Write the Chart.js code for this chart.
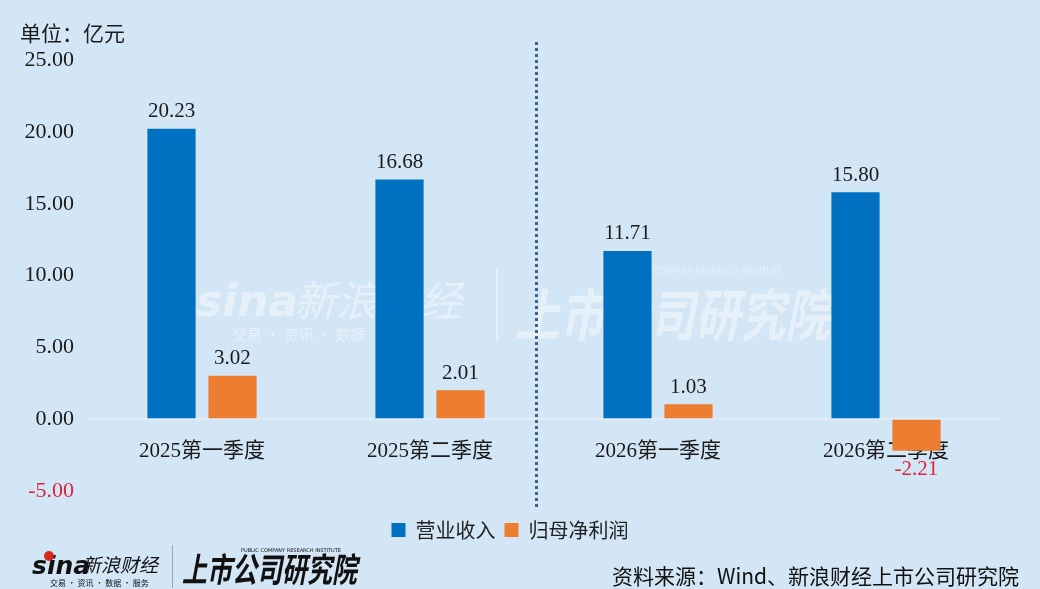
<!DOCTYPE html>
<html>
<head>
<meta charset="utf-8">
<script src="https://cdn.jsdelivr.net/npm/chart.js@4.4.1/dist/chart.umd.min.js"></script>
<style>
  html, body { margin: 0; padding: 0; background: #d3e6f5; }
  #wrap { width: 1040px; height: 589px; position: relative; }
</style>
</head>
<body>
<div id="wrap"><canvas id="myChart"></canvas></div>
<script>
// data (亿元)
const categories = ["2025第一季度", "2025第二季度", "2026第一季度", "2026第二季度"];
const revenue = [20.23, 16.68, 11.71, 15.80];
const netProfit = [3.02, 2.01, 1.03, -2.21];
const seriesNames = ["营业收入", "归母净利润"];
const yMin = -5, yMax = 25, yStep = 5;

const BG = "#d3e6f5";
const BLUE = "#0070c0";
const ORANGE = "#ed7d31";
const RED = "#e0213a";
const INK = "#1a1a1a";
const NUM_FONT = "'Liberation Serif', 'Noto Sans CJK SC', serif";
const CJK_FONT = "'Noto Sans CJK SC', sans-serif";

// divider between the two years, in category units
const dividerAt = 1.465;

const background = {
    id: "background",
    beforeDraw(chart) {
        const ctx = chart.ctx;
        ctx.save();
        ctx.fillStyle = BG;
        ctx.fillRect(0, 0, chart.width, chart.height);
        ctx.restore();
    }
};

const watermark = {
    id: "watermark",
    beforeDatasetsDraw(chart) {
        const ctx = chart.ctx;
        ctx.save();
        ctx.fillStyle = "rgba(255,255,255,0.42)";
        ctx.strokeStyle = "rgba(255,255,255,0.42)";
        ctx.textBaseline = "alphabetic";
        ctx.font = "italic bold 44px 'DejaVu Sans', sans-serif";
        ctx.fillText("sina", 196, 316);
        ctx.font = "italic 42px " + CJK_FONT;
        ctx.fillText("新浪财经", 294, 316);
        ctx.font = "15px " + CJK_FONT;
        ctx.fillText("交易 · 资讯 · 数据 · 服务", 232, 340);
        ctx.lineWidth = 2;
        ctx.beginPath();
        ctx.moveTo(497, 268);
        ctx.lineTo(497, 342);
        ctx.stroke();
        ctx.translate(515, 336);
        ctx.scale(1, 1.25);
        ctx.font = "italic bold 45px " + CJK_FONT;
        ctx.fillText("上市公司研究院", 0, 0);
        ctx.restore();
        ctx.save();
        ctx.fillStyle = "rgba(255,255,255,0.42)";
        ctx.font = "8px 'DejaVu Sans', sans-serif";
        ctx.fillText("PUBLIC COMPANY RESEARCH INSTITUTE", 622, 272);
        ctx.restore();
    }
};

const divider = {
    id: "divider",
    afterDatasetsDraw(chart) {
        const ctx = chart.ctx;
        const x = Math.round(chart.scales.x.getPixelForValue(dividerAt)) + 0.5;
        ctx.save();
        ctx.strokeStyle = "#3f6285";
        ctx.lineWidth = 3;
        ctx.setLineDash([3, 3]);
        ctx.beginPath();
        ctx.moveTo(x, 42);
        ctx.lineTo(x, 510);
        ctx.stroke();
        ctx.restore();
    }
};

const valueLabels = {
    id: "valueLabels",
    afterDatasetsDraw(chart) {
        const ctx = chart.ctx;
        ctx.save();
        ctx.font = "21px " + NUM_FONT;
        ctx.textAlign = "center";
        ctx.textBaseline = "middle";
        chart.data.datasets.forEach((ds, i) => {
            chart.getDatasetMeta(i).data.forEach((bar, j) => {
                const v = ds.data[j];
                ctx.fillStyle = v < 0 ? RED : INK;
                const y = v < 0 ? bar.y + 19 : bar.y - 17;
                ctx.fillText(v.toFixed(2), bar.x, y);
            });
        });
        ctx.restore();
    }
};

const footer = {
    id: "footer",
    afterDraw(chart) {
        const ctx = chart.ctx;
        ctx.save();
        ctx.textBaseline = "alphabetic";
        // sina logo
        ctx.fillStyle = "#111";
        ctx.font = "italic bold 25px 'DejaVu Sans', sans-serif";
        ctx.fillText("sina", 32, 574);
        ctx.fillStyle = "#d52b1e";
        ctx.beginPath();
        ctx.arc(49, 556, 5, 0, Math.PI * 2);
        ctx.fill();
        ctx.fillStyle = "#111";
        ctx.font = "italic 19px " + CJK_FONT;
        ctx.fillText("新浪财经", 82, 572);
        ctx.font = "8px " + CJK_FONT;
        ctx.fillText("交易 · 资讯 · 数据 · 服务", 50, 586);
        ctx.strokeStyle = "#9aa8b5";
        ctx.lineWidth = 1;
        ctx.beginPath();
        ctx.moveTo(172.5, 545);
        ctx.lineTo(172.5, 588);
        ctx.stroke();
        // research institute logo
        ctx.save();
        ctx.translate(182, 582);
        ctx.scale(1, 1.35);
        ctx.font = "italic bold 25px " + CJK_FONT;
        ctx.fillText("上市公司研究院", 0, 0);
        ctx.restore();
        ctx.font = "5px 'DejaVu Sans', sans-serif";
        ctx.fillText("PUBLIC COMPANY RESEARCH INSTITUTE", 241, 552);
        // source
        ctx.font = "21px " + CJK_FONT;
        ctx.textAlign = "right";
        ctx.fillText("资料来源：Wind、新浪财经上市公司研究院", 1019, 584);
        ctx.restore();
    }
};

new Chart(document.getElementById("myChart"), {
    type: "bar",
    data: {
        labels: categories,
        datasets: [
            {
                label: seriesNames[0],
                data: revenue,
                backgroundColor: BLUE,
                borderWidth: 0,
                barPercentage: 0.79,
                categoryPercentage: 0.535
            },
            {
                label: seriesNames[1],
                data: netProfit,
                backgroundColor: ORANGE,
                borderWidth: 0,
                barPercentage: 0.79,
                categoryPercentage: 0.535
            }
        ]
    },
    options: {
        responsive: true,
        maintainAspectRatio: false,
        animation: false,
        layout: {
            padding: { left: 20, right: 40, top: 0, bottom: 39 }
        },
        plugins: {
            title: {
                display: true,
                text: "单位：亿元",
                align: "start",
                color: INK,
                font: { family: CJK_FONT, size: 21, weight: "normal" },
                padding: { top: 20, bottom: 15 }
            },
            legend: {
                position: "bottom",
                title: {
                    display: true,
                    text: "",
                    font: { size: 1 },
                    padding: { top: 19, bottom: 0 }
                },
                labels: {
                    boxWidth: 14,
                    boxHeight: 14,
                    padding: 9,
                    color: "#222",
                    font: { family: CJK_FONT, size: 20 }
                }
            },
            tooltip: { enabled: false }
        },
        scales: {
            x: {
                position: { y: 0 },
                grid: { display: false },
                border: { display: false },
                ticks: {
                    color: INK,
                    padding: 12,
                    font: { family: NUM_FONT, size: 21 }
                }
            },
            y: {
                min: yMin,
                max: yMax,
                afterFit(scale) { scale.width = 68; },
                grid: {
                    drawTicks: false,
                    color: (c) => c.tick && c.tick.value === 0 ? "#e3eef8" : "rgba(0,0,0,0)",
                    lineWidth: 1.5
                },
                border: { display: false },
                ticks: {
                    stepSize: yStep,
                    padding: 14,
                    color: (c) => c.tick.value < 0 ? RED : INK,
                    font: { family: NUM_FONT, size: 22 },
                    callback: (v) => Number(v).toFixed(2)
                }
            }
        }
    },
    plugins: [background, watermark, divider, valueLabels, footer]
});
</script>
</body>
</html>
